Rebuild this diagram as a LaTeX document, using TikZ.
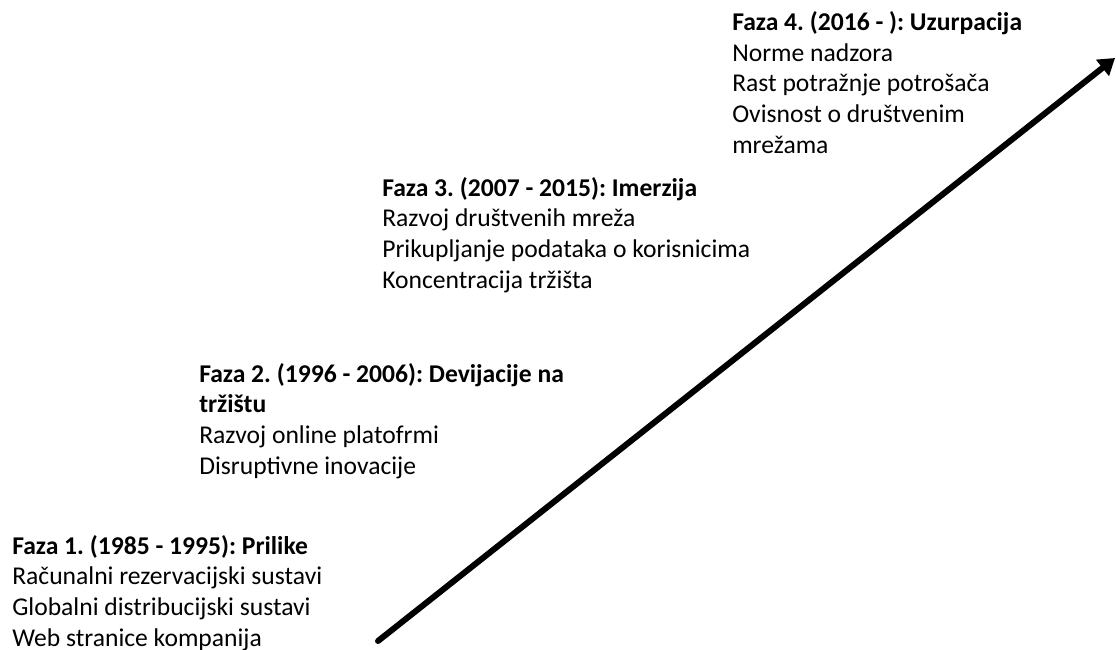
\documentclass[tikz,border=0pt]{standalone}
\usepackage{fontspec}
\setmainfont{Carlito}
\usepackage{tikz}
\usetikzlibrary{arrows.meta,positioning}
\frenchspacing

\begin{document}
\begin{tikzpicture}[x=0.75pt, y=-0.75pt,
    faza/.style={align=left, anchor=base west, inner sep=0pt,
      font=\fontsize{19.2}{23}\selectfont}]
    \useasboundingbox (0,0) rectangle (1116,649);

    % base west = zadnji redak
    \node[faza] (f1) at (12,646) {\textbf{Faza 1. (1985 - 1995): Prilike}\\
      Računalni rezervacijski sustavi\\
      Globalni distribucijski sustavi\\
      Web stranice kompanija};
    \node[faza] (f2) at (199,474) {\textbf{Faza 2. (1996 - 2006): Devijacije na}\\
      \textbf{tržištu}\\
      Razvoj online platofrmi\\
      Disruptivne inovacije};
    \node[faza] (f3) at (382,288) {\textbf{Faza 3. (2007 - 2015): Imerzija}\\
      Razvoj društvenih mreža\\
      Prikupljanje podataka o korisnicima\\
      Koncentracija tržišta};
    \node[faza] (f4) at (732,153) {\textbf{Faza 4. (2016 - ): Uzurpacija}\\
      Norme nadzora\\
      Rast potražnje potrošača\\
      Ovisnost o društvenim\\
      mrežama};

    % vremenska os
    \coordinate (poc) at (378,641);
    \coordinate (kraj) at (1115,58);
    \draw[line width=4.5pt, line cap=round, -{Triangle[length=12pt, width=15pt]}] (poc) -- (kraj);
\end{tikzpicture}
\end{document}
